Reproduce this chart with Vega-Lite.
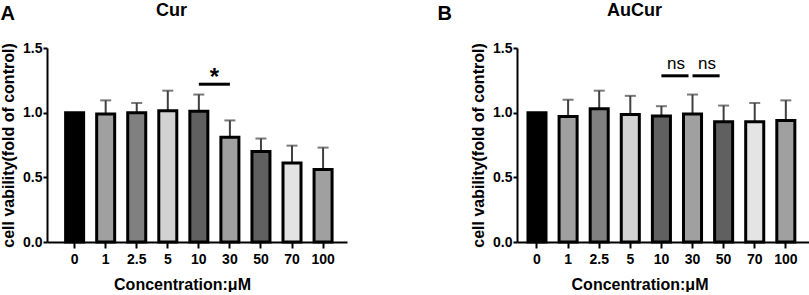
{
  "$schema": "https://vega.github.io/schema/vega-lite/v6.json",
  "background": "white",
  "padding": {"left": 0, "top": 2, "right": 0, "bottom": 0},
  "spacing": 90,
  "datasets": {
    "cur": [
      {"conc": "0", "mean": 1.0, "upper": null},
      {"conc": "1", "mean": 0.99, "upper": 1.095},
      {"conc": "2.5", "mean": 1.0, "upper": 1.075},
      {"conc": "5", "mean": 1.015, "upper": 1.17},
      {"conc": "10", "mean": 1.01, "upper": 1.14},
      {"conc": "30", "mean": 0.81, "upper": 0.94},
      {"conc": "50", "mean": 0.70, "upper": 0.80},
      {"conc": "70", "mean": 0.61, "upper": 0.745},
      {"conc": "100", "mean": 0.56, "upper": 0.73}
    ],
    "aucur": [
      {"conc": "0", "mean": 1.0, "upper": null},
      {"conc": "1", "mean": 0.97, "upper": 1.10},
      {"conc": "2.5", "mean": 1.03, "upper": 1.17},
      {"conc": "5", "mean": 0.985, "upper": 1.13},
      {"conc": "10", "mean": 0.975, "upper": 1.05},
      {"conc": "30", "mean": 0.99, "upper": 1.14},
      {"conc": "50", "mean": 0.93, "upper": 1.055},
      {"conc": "70", "mean": 0.93, "upper": 1.075},
      {"conc": "100", "mean": 0.94, "upper": 1.095}
    ],
    "sigA": [
      {"from": "10", "to": "30", "y": 1.22, "label": "*"}
    ],
    "sigB": [
      {"from": "10", "to": "30", "y": 1.285, "label": "ns"},
      {"from": "30", "to": "50", "y": 1.285, "label": "ns"}
    ]
  },
  "config": {
    "font": "Liberation Sans",
    "view": {"stroke": null},
    "axis": {
      "grid": false,
      "domainColor": "black",
      "domainWidth": 2,
      "tickColor": "black",
      "tickWidth": 2,
      "labelColor": "black",
      "labelFont": "Liberation Sans",
      "labelFontWeight": "bold",
      "labelFontSize": 14,
      "titleColor": "black",
      "titleFont": "Liberation Sans",
      "titleFontWeight": "bold",
      "titleFontSize": 16
    },
    "title": {"font": "Liberation Sans", "fontWeight": "bold", "fontSize": 18, "color": "black"}
  },
  "hconcat": [
    {
      "width": 300,
      "height": 194,
      "title": {"text": "Cur", "anchor": "start", "frame": "group", "offset": -17, "dx": 109},
      "resolve": {"axis": {"x": "independent"}},
      "layer": [
        {
          "data": {"name": "cur"},
          "transform": [{"filter": "datum.upper != null"}],
          "mark": {"type": "rule", "color": "#404040", "strokeWidth": 2},
          "encoding": {
            "x": {"field": "conc", "type": "nominal", "axis": null, "scale": {"domain": ["0","1","2.5","5","10","30","50","70","100"], "paddingInner": 0.42, "paddingOuter": 0.54, "align": 0.555}},
            "y": {"field": "mean", "type": "quantitative"},
            "y2": {"field": "upper"}
          }
        },
        {
          "data": {"name": "cur"},
          "transform": [{"filter": "datum.upper != null"}],
          "mark": {"type": "tick", "color": "#404040", "thickness": 2, "size": 11, "orient": "horizontal"},
          "encoding": {
            "x": {"field": "conc", "type": "nominal", "axis": null},
            "y": {"field": "upper", "type": "quantitative"}
          }
        },
        {
          "data": {"name": "cur"},
          "mark": {"type": "bar", "stroke": "black", "strokeWidth": 3},
          "encoding": {
            "x": {"field": "conc", "type": "nominal", "axis": {"orient": "bottom", "title": "Concentration:μM", "labelAngle": 0, "tickSize": 6, "labelPadding": 4, "titleX": 135, "titlePadding": 10}},
            "y": {"field": "mean", "type": "quantitative", "scale": {"domain": [0, 1.5], "nice": false}, "axis": {"title": "cell vability(fold of control)", "values": [0, 0.5, 1, 1.5], "format": ".1f", "tickSize": 4, "labelPadding": 1, "titlePadding": 6}},
            "color": {"field": "conc", "type": "nominal", "legend": null, "scale": {"domain": ["0","1","2.5","5","10","30","50","70","100"], "range": ["#000000","#a0a0a0","#808080","#d2d2d2","#606060","#a0a0a0","#606060","#e4e4e4","#a0a0a0"]}}
          }
        },
        {
          "data": {"name": "sigA"},
          "mark": {"type": "rule", "color": "black", "strokeWidth": 3},
          "encoding": {
            "x": {"field": "from", "type": "nominal", "axis": {"orient": "top", "title": "A", "labels": false, "ticks": false, "domain": false, "titleX": -47, "titleY": -29, "titleAlign": "left", "titleAngle": 0, "titleBaseline": "alphabetic", "titleFontSize": 20}},
            "x2": {"field": "to"},
            "y": {"field": "y", "type": "quantitative"}
          }
        },
        {
          "data": {"name": "sigA"},
          "mark": {"type": "text", "fontSize": 24, "fontWeight": "bold", "dx": 15.5, "dy": 1, "baseline": "alphabetic", "align": "center"},
          "encoding": {
            "x": {"field": "from", "type": "nominal", "axis": null},
            "y": {"field": "y", "type": "quantitative"},
            "text": {"field": "label"}
          }
        }
      ]
    },
    {
      "width": 293,
      "height": 194,
      "title": {"text": "AuCur", "anchor": "start", "frame": "group", "offset": -17, "dx": 90},
      "resolve": {"axis": {"x": "independent"}},
      "layer": [
        {
          "data": {"name": "aucur"},
          "transform": [{"filter": "datum.upper != null"}],
          "mark": {"type": "rule", "color": "#404040", "strokeWidth": 2},
          "encoding": {
            "x": {"field": "conc", "type": "nominal", "axis": null, "scale": {"domain": ["0","1","2.5","5","10","30","50","70","100"], "paddingInner": 0.42, "paddingOuter": 0.42, "align": 0.42}},
            "y": {"field": "mean", "type": "quantitative"},
            "y2": {"field": "upper"}
          }
        },
        {
          "data": {"name": "aucur"},
          "transform": [{"filter": "datum.upper != null"}],
          "mark": {"type": "tick", "color": "#404040", "thickness": 2, "size": 11, "orient": "horizontal"},
          "encoding": {
            "x": {"field": "conc", "type": "nominal", "axis": null},
            "y": {"field": "upper", "type": "quantitative"}
          }
        },
        {
          "data": {"name": "aucur"},
          "mark": {"type": "bar", "stroke": "black", "strokeWidth": 3},
          "encoding": {
            "x": {"field": "conc", "type": "nominal", "axis": {"orient": "bottom", "title": "Concentration:μM", "labelAngle": 0, "tickSize": 6, "labelPadding": 4, "titleX": 122.5, "titlePadding": 10}},
            "y": {"field": "mean", "type": "quantitative", "scale": {"domain": [0, 1.5], "nice": false}, "axis": {"title": "cell vability(fold of control)", "values": [0, 0.5, 1, 1.5], "format": ".1f", "tickSize": 4, "labelPadding": 1, "titlePadding": 6}},
            "color": {"field": "conc", "type": "nominal", "legend": null, "scale": {"domain": ["0","1","2.5","5","10","30","50","70","100"], "range": ["#000000","#a0a0a0","#808080","#d2d2d2","#606060","#a0a0a0","#606060","#e4e4e4","#a0a0a0"]}}
          }
        },
        {
          "data": {"name": "sigB"},
          "mark": {"type": "rule", "color": "black", "strokeWidth": 3, "x2Offset": -4},
          "encoding": {
            "x": {"field": "from", "type": "nominal", "axis": {"orient": "top", "title": "B", "labels": false, "ticks": false, "domain": false, "titleX": -80, "titleY": -29, "titleAlign": "left", "titleAngle": 0, "titleBaseline": "alphabetic", "titleFontSize": 20}},
            "x2": {"field": "to"},
            "y": {"field": "y", "type": "quantitative"}
          }
        },
        {
          "data": {"name": "sigB"},
          "mark": {"type": "text", "fontSize": 17, "fontWeight": "normal", "dx": 14.5, "dy": -6.5, "baseline": "alphabetic", "align": "center"},
          "encoding": {
            "x": {"field": "from", "type": "nominal", "axis": null},
            "y": {"field": "y", "type": "quantitative"},
            "text": {"field": "label"}
          }
        }
      ]
    }
  ]
}
